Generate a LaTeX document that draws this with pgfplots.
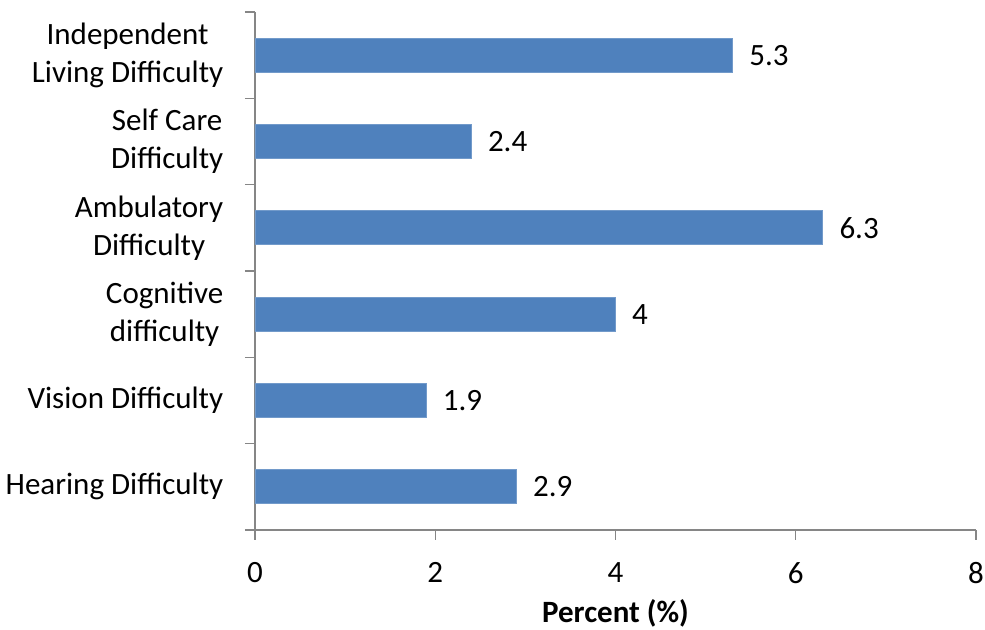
\documentclass[border=0pt]{standalone}
\usepackage{fontspec}
\setmainfont{Carlito}
\usepackage{pgfplots}
\pgfplotsset{compat=1.18}
\definecolor{barblue}{HTML}{4F81BD}
\definecolor{axgray}{HTML}{868686}
\begin{document}
\fontsize{15.5}{19}\selectfont
\begin{tikzpicture}
\path[use as bounding box] (-127.5pt,-50pt) rectangle (365pt,265pt);
\begin{axis}[
  at={(0pt,0pt)}, anchor=south west,
  scale only axis, width=360.5pt, height=259pt,
  xbar, bar width=17pt,
  xmin=0, xmax=8, ymin=-0.5, ymax=5.5,
  xtick={0,2,4,6,8},
  ytick={-0.5,0.5,1.5,2.5,3.5,4.5,5.5},
  y tick label as interval,
  yticklabels={Hearing Difficulty, Vision Difficulty, {Cognitive\\difficulty}, {Ambulatory\\Difficulty}, {Self Care\\Difficulty}, {Independent\\Living Difficulty}},
  axis x line*=bottom, axis y line*=left,
  axis line style={axgray, line width=0.6pt, -},
  tick style={axgray, line width=0.6pt},
  major tick length=5pt,
  tick align=outside,
  yticklabel style={align=center, font=\fontsize{15.5}{19}\selectfont, xshift=-5.5pt},
  xticklabel style={font=\fontsize{15.5}{19}\selectfont, yshift=-6pt},
  /pgf/number format/assume math mode=true,
  xlabel={\textbf{Percent (\%)}},
  xlabel style={font=\fontsize{15.5}{19}\selectfont, yshift=3pt},
  nodes near coords,
  nodes near coords style={font=\fontsize{15.5}{19}\selectfont, xshift=3pt, /pgf/number format/assume math mode=true},
  clip=false,
]
\addplot[fill=barblue, draw=barblue!80!white] coordinates {
  (2.9,0) (1.9,1) (4,2) (6.3,3) (2.4,4) (5.3,5)
};
\end{axis}
\end{tikzpicture}
\end{document}
